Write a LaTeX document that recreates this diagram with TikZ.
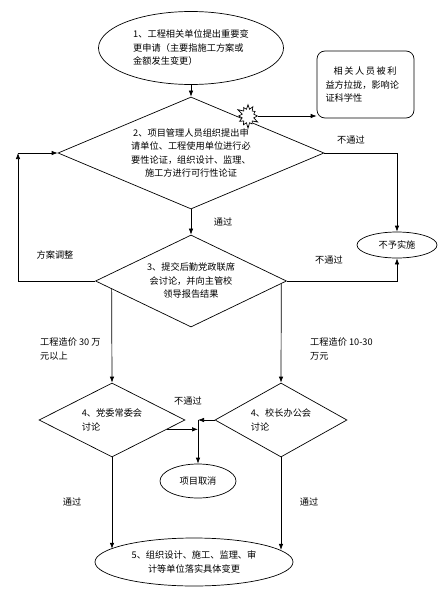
\documentclass[tikz,border=0pt]{standalone}
\usepackage{fontspec}
\setmainfont{Noto Sans CJK SC}
\usepackage{tikz}
\usetikzlibrary{shapes.geometric, shapes.symbols, arrows.meta, calc}

\begin{document}
\begin{tikzpicture}[
    x=1pt, y=-1pt,
    every node/.style={font=\fontsize{9.2}{13.5}\selectfont},
    oval/.style={draw, ellipse, inner sep=0pt, line width=0.7pt, align=center},
    decision/.style={draw, diamond, inner sep=0pt, line width=0.7pt, align=center},
    note/.style={draw, rectangle, rounded corners=8pt, inner sep=0pt, line width=0.7pt, align=left},
    tag/.style={inner sep=1pt, align=left},
    arrow/.style={line width=0.7pt,->,>={Latex[length=6pt,width=4.5pt]}}
]
\useasboundingbox (0,0) rectangle (442,594);

\node (apply) [oval, minimum width=185pt, minimum height=73pt, align=left] at (191,48) {1、工程相关单位提出重要变\\更申请（主要指施工方案或\\金额发生变更）};
\node (review) [decision, shape aspect=2.37, minimum width=266pt, minimum height=112pt] at (191,153) {2、项目管理人员组织提出申\\请单位、工程使用单位进行必\\要性论证，组织设计、监理、\\施工方进行可行性论证};
\node (bribe) [note, minimum width=97pt, minimum height=67pt, text width=80pt] at (365.5,84.5) {\hspace*{8pt}相\hspace{1.6pt}关\hspace{1.6pt}人\hspace{1.6pt}员\hspace{1.6pt}被\hspace{1.6pt}利\\益方拉拢，影响论\\证科学性};
\node (burst) [draw, starburst, fill=white, line width=0.7pt, inner sep=0pt, minimum width=24pt, minimum height=26pt, starburst points=12, starburst point height=6pt] at (248,116) {};
\node (meeting) [decision, shape aspect=2.08, minimum width=191pt, minimum height=92pt] at (191,281) {3、提交后勤党政联席\\会讨论，并向主管校\\领导报告结果};
\node (refuse) [oval, minimum width=80pt, minimum height=26pt] at (397,245) {不予实施};
\node (party) [decision, shape aspect=2, minimum width=146pt, minimum height=74pt, align=left] at (112,420) {4、党委常委会\\讨论};
\node (office) [decision, shape aspect=1.8, minimum width=132pt, minimum height=74pt, align=left] at (281,420) {4、校长办公会\\讨论};
\node (cancel) [oval, minimum width=76pt, minimum height=34pt] at (198,481) {项目取消};
\node (finish) [oval, minimum width=198pt, minimum height=48pt] at (194,562) {5、组织设计、施工、监理、审\\计等单位落实具体变更};

% labels
\node (fail1) [tag] at (351,140) {不通过};
\node (pass1) [tag] at (223,222) {通过};
\node (rework) [tag] at (55,255) {方案调整};
\node (fail2) [tag] at (329,260) {不通过};
\node (big) [tag, anchor=north west] at (39,337) {工程造价 30 万\\元以上};
\node (mid) [tag, anchor=north west] at (309,337) {工程造价 10-30\\万元};
\node (fail3) [tag] at (188,401) {不通过};
\node (pass3) [tag] at (72,502) {通过};
\node (pass4) [tag] at (309,502) {通过};

\coordinate (back) at (18,153);
\coordinate (merge) at (198,420);

\draw[arrow] (apply) -- (review);
\draw[arrow] (burst.east) -- (burst.east -| bribe.west);
\draw[arrow] (review) -- (meeting);
\draw[arrow] (review.east) -| (refuse.north);
\draw[arrow] (meeting.east) -| (refuse.south);
\draw[arrow] (meeting.west) -| (back);
\draw[arrow] (back) -- (review.west);
\draw[arrow] ($(meeting.west)!0.172!(meeting.south)$) -- (party.north);
\draw[arrow] ($(meeting.east)!0.058!(meeting.south)$) -- (office.north);
\draw[arrow] ($(party.east)!0.25!(party.south)$) coordinate (partyout) -- (partyout -| merge);
\draw[arrow] (office.west) -- (merge);
\draw[arrow] (merge) -- (cancel.north);
\draw[arrow] (party.south) -- (party.south |- finish.171);
\draw[arrow] (office.south) -- (office.south |- finish.8);
\end{tikzpicture}
\end{document}
